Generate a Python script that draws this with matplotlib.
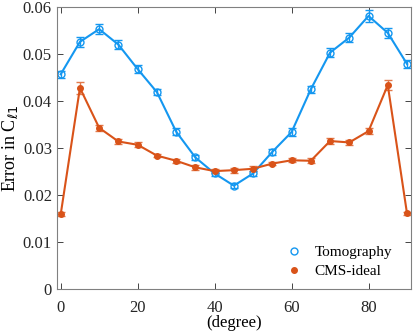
import numpy as np
import matplotlib.pyplot as plt

plt.rcParams['font.family'] = ['Liberation Serif', 'DejaVu Serif']

angle = np.arange(0, 91, 5)
tomo = [0.0457, 0.0526, 0.0553, 0.0520, 0.0468, 0.0419, 0.0335, 0.0280, 0.0246, 0.0220,
        0.0246, 0.0292, 0.0334, 0.0425, 0.0503, 0.0535, 0.0581, 0.0545, 0.0479]
tomo_err = [0.0008, 0.0010, 0.0010, 0.0009, 0.0008, 0.0007, 0.0008, 0.0006, 0.0006, 0.0005,
            0.0006, 0.0006, 0.0008, 0.0008, 0.0009, 0.0010, 0.0012, 0.0010, 0.0009]
cms = [0.0159, 0.0428, 0.0343, 0.0314, 0.0307, 0.0284, 0.0273, 0.0259, 0.0251, 0.0253,
       0.0256, 0.0267, 0.0274, 0.0273, 0.0315, 0.0312, 0.0336, 0.0434, 0.0161]
cms_err = [0.0004, 0.0012, 0.0006, 0.0005, 0.0005, 0.0004, 0.0004, 0.0005, 0.0005, 0.0005,
           0.0005, 0.0004, 0.0004, 0.0005, 0.0006, 0.0005, 0.0006, 0.0010, 0.0004]

blue = '#1497f0'
orange = '#d95319'

fig = plt.figure(figsize=(4.15, 3.35), dpi=100)
ax = fig.add_axes([0.137, 0.137, 0.853, 0.842])

ax.errorbar(angle, tomo, yerr=tomo_err, color=blue, lw=1.5, marker='o', ms=5,
            mfc='none', mec=blue, mew=1.0, capsize=3, elinewidth=1.0, ecolor=blue)
ax.errorbar(angle, cms, yerr=cms_err, color=orange, lw=1.5, marker='o', ms=4,
            mfc=orange, mec=orange, capsize=3, elinewidth=1.0, ecolor='#e27a4c')

ax.plot([], [], 'o', color=blue, mfc='none', ms=5, label='Tomography')
ax.plot([], [], 'o', color=orange, ms=4, label='CMS-ideal')
h, l = ax.get_legend_handles_labels()
ax.legend(h[-2:], l[-2:], loc='lower right', frameon=False, fontsize=11,
          handletextpad=0.3, labelspacing=0.35, bbox_to_anchor=(0.985, -0.01))

ax.set_xlim(-1, 91)
ax.set_ylim(0, 0.06)
ax.set_xticks([0, 20, 40, 60, 80])
ax.set_yticks([0, 0.01, 0.02, 0.03, 0.04, 0.05, 0.06])
ax.set_yticklabels(['0', '0.01', '0.02', '0.03', '0.04', '0.05', '0.06'])
ax.tick_params(direction='in', top=True, right=True, labelsize=12, colors='#262626',
               length=4, width=0.6)
ax.tick_params(axis='x', pad=8)
for s in ax.spines.values():
    s.set_color('#808080')
    s.set_linewidth(0.8)

ax.set_xlabel('(degree)', fontsize=12, labelpad=-1)
ax.set_ylabel(r'Error in C$_{\ell 1}$', fontsize=13, labelpad=2)

fig.savefig('out.png', dpi=100)
